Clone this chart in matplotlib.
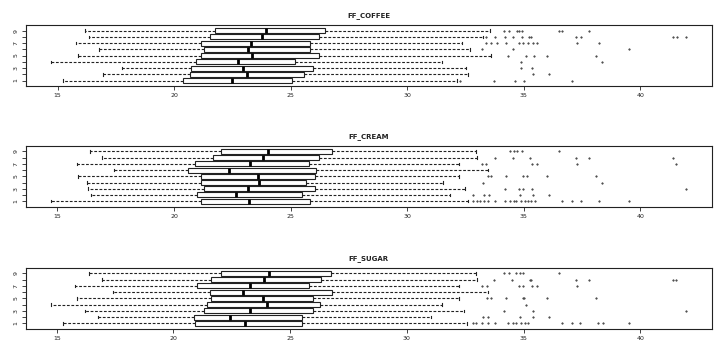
import matplotlib.pyplot as plt

groups = [1, 2, 3, 4, 5, 6, 7, 8, 9]

# FF_COFFEE
coffee_lo = [15.24, 16.93, 17.77, 14.72, 15.89, 16.76, 15.80, 16.33, 16.16]
coffee_q1 = [20.39, 20.69, 20.73, 20.93, 21.17, 21.27, 21.13, 21.53, 21.76]
coffee_med = [22.47, 23.12, 22.95, 22.73, 23.33, 23.17, 23.29, 23.77, 23.93]
coffee_q3 = [25.06, 25.57, 25.95, 25.20, 26.23, 25.83, 25.82, 26.23, 26.49]
coffee_hi = [32.12, 32.60, 32.52, 31.48, 33.59, 32.69, 32.36, 33.26, 33.56]
coffee_out = [
    [32.26, 33.72, 34.62, 35.0, 37.06],
    [35.40, 36.08],
    [34.88, 35.36],
    [34.89, 38.36],
    [34.32, 35.10, 35.45, 35.99, 38.12],
    [33.20, 34.53, 39.52],
    [33.40, 33.59, 33.83, 34.22, 34.80, 34.97, 35.19, 35.39, 35.57, 37.28, 38.21],
    [33.38, 33.77, 34.19, 34.52, 34.93, 35.22, 35.33, 37.23, 37.44, 41.41, 41.59, 41.98],
    [34.16, 34.36, 34.69, 34.80, 34.93, 36.50, 36.64, 37.80],
]

# FF_CREAM
cream_lo = [14.73, 16.43, 16.33, 16.26, 15.89, 17.43, 15.83, 16.92, 16.40]
cream_q1 = [21.17, 20.97, 21.27, 21.17, 21.17, 20.62, 20.89, 21.66, 22.00]
cream_med = [23.22, 22.66, 23.16, 23.63, 23.59, 22.37, 23.26, 23.82, 24.03]
cream_q3 = [25.83, 25.47, 26.06, 25.68, 26.03, 26.07, 25.78, 26.23, 26.79]
cream_hi = [32.59, 31.83, 32.47, 31.55, 32.23, 33.47, 32.23, 33.00, 32.96]
cream_out = [
    [32.83, 32.98, 33.12, 33.29, 33.48, 33.77, 34.19, 34.40, 34.58, 34.69,
     34.90, 35.05, 35.19, 35.33, 35.48, 36.64, 37.06, 37.44, 38.21, 39.52],
    [32.83, 33.29, 33.49, 34.86, 35.40, 36.08],
    [34.19, 34.80, 34.97, 35.36, 41.98],
    [33.26, 38.36],
    [33.45, 33.59, 34.26, 34.97, 35.15, 35.99, 38.12],
    [],
    [33.23, 33.40, 35.36, 35.59, 37.28, 41.54],
    [33.77, 34.52, 35.29, 37.25, 37.80, 41.40],
    [34.40, 34.58, 34.72, 34.92, 36.50],
]

# FF_SUGAR
sugar_lo = [15.26, 16.79, 16.23, 14.76, 15.89, 17.43, 15.80, 16.92, 16.40]
sugar_q1 = [20.93, 20.87, 21.30, 21.43, 21.60, 21.57, 21.03, 21.60, 22.05]
sugar_med = [23.06, 22.42, 23.26, 23.99, 23.83, 22.99, 23.29, 23.87, 24.09]
sugar_q3 = [25.53, 25.50, 26.00, 26.29, 26.00, 26.79, 25.82, 26.33, 26.73]
sugar_hi = [32.59, 31.05, 32.47, 31.52, 32.23, 33.47, 32.23, 33.00, 32.96]
sugar_out = [
    [32.83, 32.98, 33.23, 33.48, 33.77, 34.33, 34.55, 34.69, 34.90, 35.07,
     35.19, 36.64, 37.06, 37.44, 38.21, 38.41, 39.52],
    [33.26, 33.49, 34.86, 35.40, 36.08],
    [34.16, 35.40, 41.98],
    [35.11],
    [33.45, 33.59, 34.26, 34.97, 35.02, 35.99, 38.12],
    [],
    [33.23, 33.43, 34.80, 34.97, 35.38, 35.59, 37.28],
    [33.74, 34.52, 35.26, 35.33, 37.23, 37.80, 41.40, 41.54],
    [34.16, 34.36, 34.69, 34.83, 34.97, 36.50],
]

panels = [
    ("FF_COFFEE", coffee_lo, coffee_q1, coffee_med, coffee_q3, coffee_hi, coffee_out),
    ("FF_CREAM", cream_lo, cream_q1, cream_med, cream_q3, cream_hi, cream_out),
    ("FF_SUGAR", sugar_lo, sugar_q1, sugar_med, sugar_q3, sugar_hi, sugar_out),
]

ink = '#222222'
fig = plt.figure(figsize=(7.2, 3.55), dpi=100)
bottoms = [0.758, 0.418, 0.074]

for (title, lo, q1, med, q3, hi, out), b in zip(panels, bottoms):
    ax = fig.add_axes([0.0357, b, 0.953, 0.171])
    stats = []
    for i in range(len(groups)):
        stats.append(dict(whislo=lo[i], q1=q1[i], med=med[i], q3=q3[i],
                          whishi=hi[i], fliers=out[i]))
    ax.bxp(stats, positions=groups, widths=0.8, capwidths=0.4,
           orientation='horizontal', patch_artist=True,
           boxprops=dict(facecolor='white', edgecolor=ink, linewidth=0.8),
           medianprops=dict(color='black', linewidth=2.0, solid_capstyle='butt'),
           whiskerprops=dict(color=ink, linewidth=0.8, linestyle=(0, (2.5, 1.5))),
           capprops=dict(color=ink, linewidth=0.8),
           flierprops=dict(marker='o', markersize=1.1, markerfacecolor='#555555',
                           markeredgecolor='#444444', markeredgewidth=0.4))

    allv = lo + hi + [v for o in out for v in o]
    vmin, vmax = min(allv), max(allv)
    pad = 0.04 * (vmax - vmin)
    ax.set_xlim(vmin - pad, vmax + pad)
    ax.set_ylim(0.14, 9.86)
    ax.set_xticks([15, 20, 25, 30, 35, 40])
    ax.set_xticklabels(['15', '20', '25', '30', '35', '40'])
    ax.set_yticks(groups)
    ax.set_yticklabels([str(g) if g % 2 == 1 else '' for g in groups],
                       rotation=90, va='center')
    ax.tick_params(axis='both', labelsize=4.5, length=3, width=0.6,
                   color=ink, labelcolor=ink, pad=2)
    for s in ax.spines.values():
        s.set_linewidth(0.8)
        s.set_color(ink)
    ax.set_title(title, fontsize=5, fontweight='bold', color=ink, pad=6)

fig.savefig('out.png', dpi=100)
